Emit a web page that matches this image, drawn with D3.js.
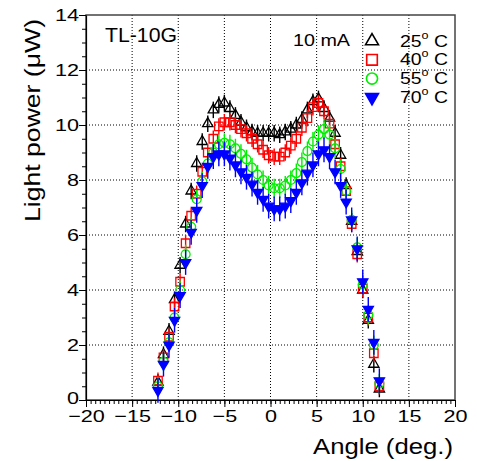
<!DOCTYPE html>
<html>
<head>
<meta charset="utf-8">
<script src="https://cdn.jsdelivr.net/npm/d3@7"></script>
<style>
  body { margin: 0; background: #fff; }
  svg text { font-family: "Liberation Sans", Arial, sans-serif; fill: #000; }
</style>
</head>
<body>
<div id="chart"></div>
<script>
// Light power vs angle for TL-10G at 10 mA, four temperatures

// Angles (deg.)
var angles = [-12.2, -11.6, -11.0, -10.4, -9.8, -9.2, -8.6, -8.0, -7.4, -6.8,
              -6.2, -5.6, -5.0, -4.4, -3.8, -3.2, -2.6, -2.0, -1.4, -0.8,
              -0.2, 0.4, 1.0, 1.6, 2.2, 2.8, 3.4, 4.0, 4.6, 5.2,
              5.8, 6.4, 7.0, 7.6, 8.2, 8.8, 9.4, 10.0, 10.6, 11.2, 11.8];

// Light power (uW) per temperature
var p25 = [0.65, 1.65, 2.5, 3.65, 4.9, 6.4, 7.6, 8.6, 9.4, 10.05,
           10.55, 10.75, 10.8, 10.6, 10.35, 10.1, 9.9, 9.75, 9.7, 9.7,
           9.7, 9.7, 9.65, 9.75, 9.85, 10.0, 10.2, 10.55, 10.85, 10.95,
           10.6, 10.25, 9.7, 8.9, 7.8, 6.5, 5.4, 4.0, 2.9, 1.3, 0.4];
var p40 = [0.7, 1.55, 2.3, 3.4, 4.3, 5.7, 6.7, 7.5, 8.3, 9.0,
           9.5, 9.95, 10.1, 10.1, 10.0, 9.85, 9.7, 9.5, 9.3, 9.1,
           8.9, 8.85, 8.85, 9.0, 9.25, 9.5, 9.9, 10.25, 10.65, 10.8,
           10.5, 10.05, 9.3, 8.5, 7.6, 6.4, 5.3, 4.05, 3.0, 1.7, 0.5];
var p55 = [0.5, 1.4, 2.1, 3.0, 4.0, 5.3, 6.3, 7.3, 7.95, 8.6,
           9.0, 9.3, 9.35, 9.3, 9.15, 8.95, 8.75, 8.45, 8.2, 8.0,
           7.8, 7.7, 7.7, 7.8, 8.0, 8.25, 8.65, 9.05, 9.4, 9.65,
           9.85, 9.65, 9.15, 8.4, 7.6, 6.55, 5.55, 4.2, 3.1, 2.0, 0.6];
var p70 = [0.35, 1.3, 2.0, 2.9, 3.8, 5.0, 6.1, 6.9, 7.8, 8.5,
           8.85, 8.95, 8.95, 8.8, 8.55, 8.3, 8.1, 7.85, 7.55, 7.3,
           7.05, 6.95, 6.95, 7.05, 7.25, 7.55, 7.9, 8.25, 8.55, 8.95,
           9.1, 8.85, 8.3, 7.8, 7.2, 6.55, 5.5, 4.3, 3.3, 2.1, 0.7];

var labels = ["25", "40", "55", "70"];
var errors = [0.3, 0.3, 0.35, 0.45];

var xTicks = [-20, -15, -10, -5, 0, 5, 10, 15, 20];
var yTicks = [0, 2, 4, 6, 8, 10, 12, 14];

var series = [
    {name: labels[0], values: p25, err: errors[0], color: "#000000", shape: "triUp", fill: "none"},
    {name: labels[1], values: p40, err: errors[1], color: "#ff0000", shape: "square", fill: "none"},
    {name: labels[2], values: p55, err: errors[2], color: "#00ee00", shape: "circle", fill: "none"},
    {name: labels[3], values: p70, err: errors[3], color: "#0000ff", shape: "triDown", fill: "#0000ff"}
];

// Set margins, height, width for SVG
var margin = {top: 15, right: 22, bottom: 61, left: 86};
var width = 477 - margin.left - margin.right;
var height = 461 - margin.top - margin.bottom;
var stretch = 1.27;

var svg = d3.select("#chart").append("svg")
    .attr("width", 477)
    .attr("height", 461)
    .append("g")
    .attr("transform", "translate(" + margin.left + "," + margin.top + ")");

var x = d3.scaleLinear().domain([-20, 20]).range([0, width]);
var y = d3.scaleLinear().domain([0, 14]).range([height, 0]);

// Dotted grid
svg.append("g").selectAll("line")
    .data(xTicks.slice(1, -1))
    .enter().append("line")
    .attr("x1", d => x(d)).attr("x2", d => x(d))
    .attr("y1", 0).attr("y2", height)
    .attr("stroke", "#000").attr("stroke-width", 1)
    .attr("stroke-dasharray", "1,2");

svg.append("g").selectAll("line")
    .data(yTicks.slice(1, -1))
    .enter().append("line")
    .attr("x1", 0).attr("x2", width)
    .attr("y1", d => y(d)).attr("y2", d => y(d))
    .attr("stroke", "#000").attr("stroke-width", 1)
    .attr("stroke-dasharray", "1,2");

// Frame
svg.append("rect")
    .attr("width", width).attr("height", height)
    .attr("fill", "none").attr("stroke", "#444").attr("stroke-width", 1.5);

// Minor ticks
svg.append("g")
    .attr("transform", "translate(0," + height + ")")
    .call(d3.axisBottom(x).ticks(80).tickSize(4).tickFormat(""))
    .call(g => g.select(".domain").remove());
svg.append("g")
    .call(d3.axisLeft(y).ticks(28).tickSize(4).tickFormat(""))
    .call(g => g.select(".domain").remove());

// Major axes
var xAxis = svg.append("g")
    .attr("transform", "translate(0," + height + ")")
    .call(d3.axisBottom(x).tickValues(xTicks).tickSize(7).tickPadding(3).tickSizeOuter(0));
xAxis.selectAll("text")
    .attr("font-size", "17px")
    .attr("transform", "scale(" + stretch + ",1)");

var yAxis = svg.append("g")
    .call(d3.axisLeft(y).tickValues(yTicks).tickSize(7).tickSizeOuter(0));
yAxis.selectAll("text")
    .attr("font-size", "17px")
    .attr("x", -7 / stretch)
    .attr("dy", d => d == 0 ? "0.2em" : "0.32em")
    .attr("transform", "scale(" + stretch + ",1)");
svg.selectAll(".domain").attr("stroke", "#000").attr("stroke-width", 1.2);

// Axis titles
svg.append("text")
    .attr("x", 453 - margin.left)
    .attr("y", 454 - margin.top)
    .attr("text-anchor", "end")
    .attr("font-size", "22px")
    .attr("textLength", 140)
    .attr("lengthAdjust", "spacingAndGlyphs")
    .text("Angle (deg.)");

svg.append("text")
    .attr("transform", "translate(" + (40 - margin.left) + "," + (19 - margin.top) + ") rotate(-90)")
    .attr("text-anchor", "end")
    .attr("font-size", "22px")
    .attr("textLength", 203)
    .attr("lengthAdjust", "spacingAndGlyphs")
    .text("Light power (\u03bcW)");

// Symbol helper
function symbolPath(shape) {
    if (shape == "triUp") return d3.symbol().type(d3.symbolTriangle).size(46)();
    if (shape == "triDown") return d3.symbol().type(d3.symbolTriangle).size(46)();
    if (shape == "square") return d3.symbol().type(d3.symbolSquare).size(72)();
    return d3.symbol().type(d3.symbolCircle).size(62)();
}
function symbolTransform(shape, px, py) {
    var t = "translate(" + px + "," + py + ")";
    if (shape == "triDown") t += " rotate(180)";
    return t;
}

// Data points with error bars
series.forEach(function (s) {
    var g = svg.append("g");
    var pts = s.values.map(function (v, i) { return {a: angles[i], v: v}; });

    g.selectAll("line.err")
        .data(pts)
        .enter().append("line")
        .attr("class", "err")
        .attr("x1", d => x(d.a)).attr("x2", d => x(d.a))
        .attr("y1", d => y(d.v - s.err)).attr("y2", d => y(d.v + s.err))
        .attr("stroke", s.color).attr("stroke-width", 1.4);

    g.selectAll("path.pt")
        .data(pts)
        .enter().append("path")
        .attr("class", "pt")
        .attr("d", symbolPath(s.shape))
        .attr("transform", d => symbolTransform(s.shape, x(d.a), y(d.v)))
        .attr("fill", s.fill == "none" ? "#fff" : s.fill)
        .attr("fill-opacity", s.fill == "none" ? 0 : 1)
        .attr("stroke", s.color)
        .attr("stroke-width", 1.3);
});

// Labels inside frame
svg.append("text")
    .attr("x", 105 - margin.left)
    .attr("y", 42 - margin.top)
    .attr("font-size", "21px")
    .attr("textLength", 72)
    .attr("lengthAdjust", "spacingAndGlyphs")
    .text("TL-10G");

svg.append("text")
    .attr("x", 293 - margin.left)
    .attr("y", 46 - margin.top)
    .attr("font-size", "16px")
    .attr("textLength", 57)
    .attr("lengthAdjust", "spacingAndGlyphs")
    .text("10 mA");

// Legend
var legend = svg.append("g")
    .attr("transform", "translate(" + (372 - margin.left) + "," + (41 - margin.top) + ")");

series.forEach(function (s, i) {
    var row = legend.append("g")
        .attr("transform", "translate(0," + i * 18.8 + ")");
    row.append("path")
        .attr("d", symbolPath(s.shape))
        .attr("fill", s.fill == "none" ? "none" : s.fill)
        .attr("stroke", s.color)
        .attr("stroke-width", 1.3)
        .attr("transform", symbolTransform(s.shape, 0, 0) + " scale(1.25)");
    var t = row.append("text")
        .attr("x", 28)
        .attr("y", 5.5)
        .attr("font-size", "17px");
    t.append("tspan").text(s.name);
    t.append("tspan").attr("font-size", "11px").attr("dy", -8).text("o");
    t.append("tspan").attr("dy", 8).text(" C");
    t.attr("textLength", 48).attr("lengthAdjust", "spacingAndGlyphs");
});
</script>
</body>
</html>
